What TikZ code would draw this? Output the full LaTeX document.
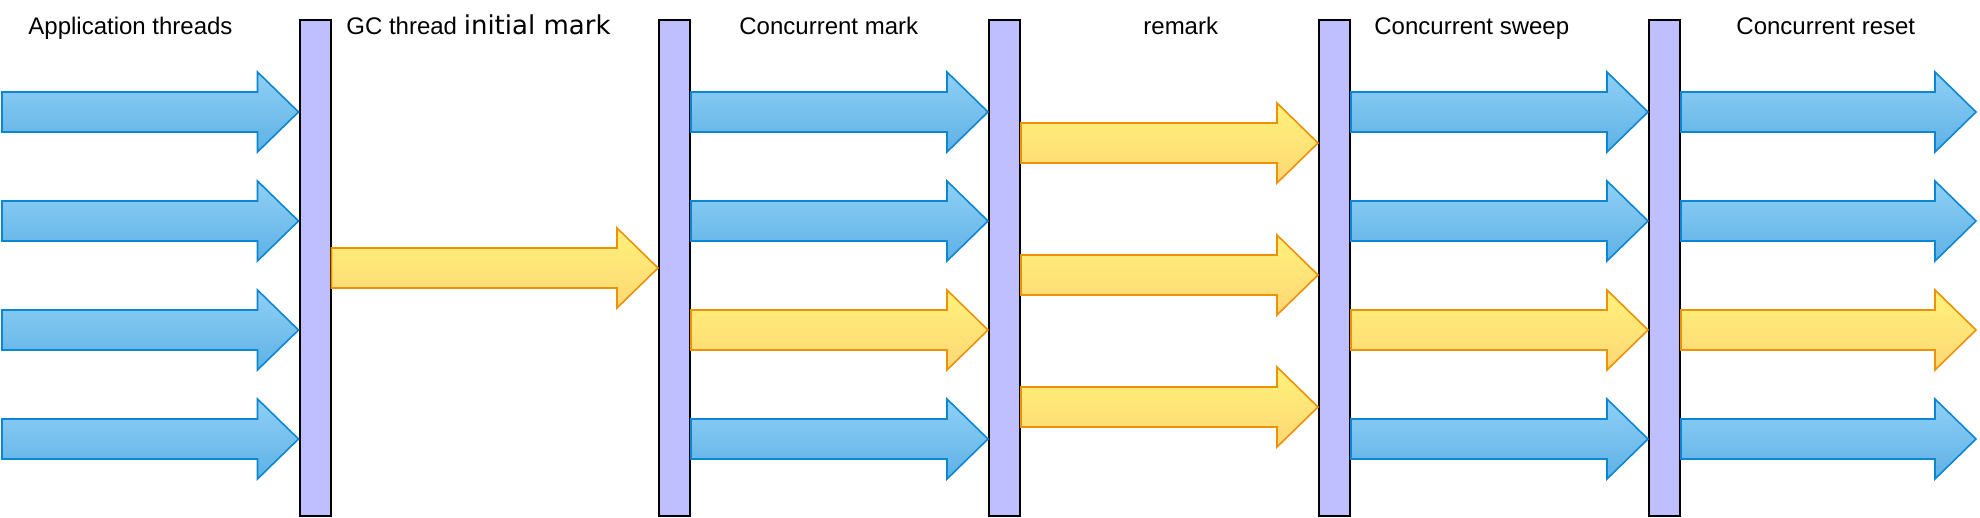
\documentclass[tikz,border=0pt]{standalone}
\usepackage{fontspec}
\setmainfont{Liberation Sans}
\newfontfamily\dejavu{DejaVu Sans}
\usetikzlibrary{calc}
\definecolor{barfill}{HTML}{BFBFFF}
\definecolor{bluetop}{HTML}{8FD0F6}
\definecolor{bluebot}{HTML}{5EB1E5}
\definecolor{blueline}{HTML}{0B87D2}
\definecolor{yeltop}{HTML}{FFF27A}
\definecolor{yelbot}{HTML}{FDD775}
\definecolor{yelline}{HTML}{EE9105}
\tikzset{
  bar/.style={draw=black, line width=1pt, fill=barfill, inner sep=0pt,
    minimum width=15.5pt, minimum height=248pt},
  bluearr/.style={draw=blueline, line width=0.8pt, top color=bluetop, bottom color=bluebot, line join=miter},
  yelarr/.style={draw=yelline, line width=0.8pt, top color=yeltop, bottom color=yelbot, line join=miter},
  lbl/.style={anchor=base west, inner sep=0pt, font=\fontsize{12}{14}\selectfont}
}
\newcommand\fatarrow[4]{%
  \shadedraw[#1] ($(#2 |- 0,#4)+(0,-20)$) -- ($(#3 |- 0,#4)+(-41,-20)$)
    -- ($(#3 |- 0,#4)+(-41,-40)$) -- (#3 |- 0,#4)
    -- ($(#3 |- 0,#4)+(-41,40)$) -- ($(#3 |- 0,#4)+(-41,20)$)
    -- ($(#2 |- 0,#4)+(0,20)$) -- cycle;}
\begin{document}
\begin{tikzpicture}[x=0.5pt,y=-0.5pt]
\useasboundingbox (0,0) rectangle (1980,518);
% bars
\node[bar] (b1) at (315,268) {};
\node[bar] (b2) at (674.5,268) {};
\node[bar] (b3) at (1004.5,268) {};
\node[bar] (b4) at (1334.5,268) {};
\node[bar] (b5) at (1664.5,268) {};
\coordinate (s0) at (2,268);
\coordinate (e5) at (1976,268);
% labels
\node[lbl] (t0) at (28,35) {Application threads};
\node[lbl] (t1) at (346,35) {GC thread {\dejavu\fontsize{13}{15}\selectfont initial mark}};
\node[lbl] (t2) at (739,35) {Concurrent mark};
\node[lbl] (t3) at (1143,35) {remark};
\node[lbl] (t4) at (1374,35) {Concurrent sweep};
\node[lbl] (t5) at (1736,35) {Concurrent reset};
% column 0
\fatarrow{bluearr}{s0}{b1.west}{112}
\fatarrow{bluearr}{s0}{b1.west}{221}
\fatarrow{bluearr}{s0}{b1.west}{330}
\fatarrow{bluearr}{s0}{b1.west}{439}
% column 1
\fatarrow{yelarr}{b1.east}{b2.west}{268}
% column 2
\fatarrow{bluearr}{b2.east}{b3.west}{112}
\fatarrow{bluearr}{b2.east}{b3.west}{221}
\fatarrow{yelarr}{b2.east}{b3.west}{330}
\fatarrow{bluearr}{b2.east}{b3.west}{439}
% column 3
\fatarrow{yelarr}{b3.east}{b4.west}{143}
\fatarrow{yelarr}{b3.east}{b4.west}{275}
\fatarrow{yelarr}{b3.east}{b4.west}{407}
% column 4
\fatarrow{bluearr}{b4.east}{b5.west}{112}
\fatarrow{bluearr}{b4.east}{b5.west}{221}
\fatarrow{yelarr}{b4.east}{b5.west}{330}
\fatarrow{bluearr}{b4.east}{b5.west}{439}
% column 5
\fatarrow{bluearr}{b5.east}{e5}{112}
\fatarrow{bluearr}{b5.east}{e5}{221}
\fatarrow{yelarr}{b5.east}{e5}{330}
\fatarrow{bluearr}{b5.east}{e5}{439}
\end{tikzpicture}
\end{document}
